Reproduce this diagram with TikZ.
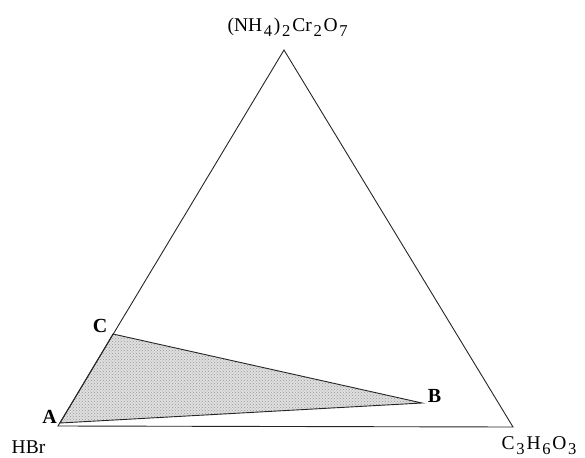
\documentclass[tikz,border=0pt]{standalone}
\usepackage{fontspec}
\setmainfont{Liberation Serif}
\usetikzlibrary{patterns}
\newcommand{\sbs}[1]{\raisebox{-0.24em}{\kern0.09em\scalebox{0.85}{#1}\kern0.09em}}
\begin{document}
\begin{tikzpicture}[x=1pt,y=-1pt,
  edge/.style={draw=black!85,line width=0.9pt},
  lbl/.style={inner sep=0pt,anchor=base,font=\fontsize{19.5}{22}\selectfont},
  pt/.style={inner sep=0pt,font=\fontsize{20}{22}\selectfont\bfseries}]
\useasboundingbox (0,0) rectangle (585,457);
\coordinate (top) at (284,50);
\coordinate (left) at (58,426);
\coordinate (right) at (513,427);
\coordinate (A) at (60,423);
\coordinate (B) at (422,403);
\coordinate (C) at (113,334);
\fill[gray!25] (A) -- (C) -- (B) -- cycle;
\fill[pattern=crosshatch dots,pattern color=gray!80] (A) -- (C) -- (B) -- cycle;
\draw[edge] (A) -- (C) -- (B) -- cycle;
\draw[edge] (top) -- (left) -- (right) -- cycle;
\node[lbl] (ltop) at (288.5,32) {(NH\sbs{4})\sbs{2}Cr\sbs{2}O\sbs{7}};
\node[lbl] (lhbr) at (28.5,453) {HBr};
\node[lbl] (lr) at (540,449.5) {C\sbs{3}H\sbs{6}O\sbs{3}};
\node[pt] (la) at (49.5,416.5) {A};
\node[pt] (lb) at (434.5,395.5) {B};
\node[pt] (lc) at (100,326) {C};
\end{tikzpicture}
\end{document}
